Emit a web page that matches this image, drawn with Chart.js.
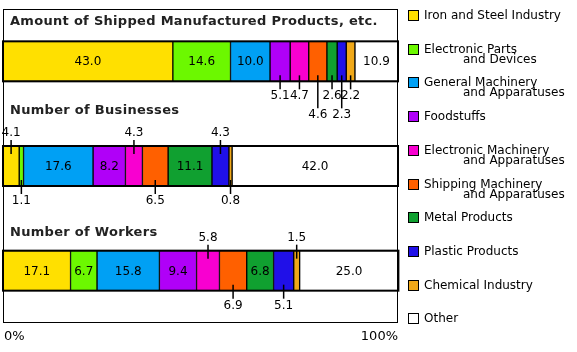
<!DOCTYPE html>
<html>
<head>
<meta charset="utf-8">
<script src="https://cdn.jsdelivr.net/npm/chart.js@4"></script>
<style>
html, body { margin: 0; padding: 0; background: #fff; }
#wrap { width: 577px; height: 352px; }
</style>
</head>
<body>
<div id="wrap"><canvas id="chart" width="577" height="352"></canvas></div>
<script>
const rows = ['Amount of Shipped Manufactured Products, etc.', 'Number of Businesses', 'Number of Workers'];
const industries = [
  ['Iron and Steel Industry'],
  ['Electronic Parts', 'and Devices'],
  ['General Machinery', 'and Apparatuses'],
  ['Foodstuffs'],
  ['Electronic Machinery', 'and Apparatuses'],
  ['Shipping Machinery', 'and Apparatuses'],
  ['Metal Products'],
  ['Plastic Products'],
  ['Chemical Industry'],
  ['Other']
];
const shipped = [43.0, 14.6, 10.0, 5.1, 4.7, 4.6, 2.6, 2.3, 2.2, 10.9];
const businesses = [4.1, 1.1, 17.6, 8.2, 4.3, 6.5, 11.1, 4.3, 0.8, 42.0];
const workers = [17.1, 6.7, 15.8, 9.4, 5.8, 6.9, 6.8, 5.1, 1.5, 25.0];
const axisLabels = ['0%', '100%'];

const colors = ['#ffe000', '#6cf800', '#00a0f4', '#b000f8', '#f800d0', '#ff6000', '#10a030', '#2010e8', '#f0a818', '#ffffff'];

// where each value label goes: inside the bar, above it, below it, or further below
const labelSpots = [
  ['in', 'in', 'in', 'down', 'down', 'down2', 'down', 'down2', 'down', 'in'],
  ['up', 'down', 'in', 'in', 'up', 'down', 'in', 'up', 'down', 'in'],
  ['in', 'in', 'in', 'in', 'up', 'down', 'in', 'down', 'up', 'in']
];
const titleOffsets = [-20, -35, -18];

const FONT = '"DejaVu Sans", sans-serif';

const series = [shipped, businesses, workers];
const datasets = industries.map((name, i) => ({
  label: name.join(' '),
  data: series.map(s => s[i]),
  backgroundColor: colors[i],
  borderColor: '#000',
  borderWidth: 1,
  borderSkipped: false,
  barThickness: 40
}));

const decorations = {
  id: 'decorations',
  afterDatasetsDraw(chart) {
    const ctx = chart.ctx;
    const ca = chart.chartArea;
    ctx.save();
    ctx.strokeStyle = '#000';
    ctx.lineWidth = 1;
    ctx.strokeRect(ca.left + 0.5, ca.top + 0.5, ca.right - ca.left - 1, ca.bottom - ca.top - 1);

    for (let r = 0; r < rows.length; r++) {
      let top = 0, bottom = 0, left = Infinity, right = -Infinity;
      const bars = [];
      for (let d = 0; d < datasets.length; d++) {
        const el = chart.getDatasetMeta(d).data[r];
        const p = el.getProps(['x', 'y', 'base', 'height'], true);
        const l = Math.min(p.x, p.base), rt = Math.max(p.x, p.base);
        top = p.y - p.height / 2;
        bottom = p.y + p.height / 2;
        left = Math.min(left, l);
        right = Math.max(right, rt);
        bars.push({ cx: (l + rt) / 2, cy: p.y });
      }
      ctx.lineWidth = 2;
      ctx.strokeRect(left, top, right - left, bottom - top);

      // row title
      ctx.fillStyle = '#222';
      ctx.font = 'bold 13px ' + FONT;
      ctx.letterSpacing = '0.3px';
      ctx.textAlign = 'left';
      ctx.textBaseline = 'middle';
      ctx.fillText(rows[r], ca.left + 7, top + titleOffsets[r]);
      ctx.letterSpacing = '0px';

      // values
      ctx.font = '12px ' + FONT;
      ctx.textAlign = 'center';
      ctx.fillStyle = '#000';
      ctx.lineWidth = 1.5;
      bars.forEach((b, d) => {
        const txt = series[r][d].toFixed(1);
        const spot = labelSpots[r][d];
        if (spot === 'in') {
          ctx.fillText(txt, b.cx, b.cy + 1);
          return;
        }
        ctx.beginPath();
        if (spot === 'up') {
          ctx.moveTo(b.cx, top + 8);
          ctx.lineTo(b.cx, top - 6);
          ctx.stroke();
          ctx.fillText(txt, b.cx, top - 13);
        } else {
          const len = spot === 'down2' ? 27 : 8;
          ctx.moveTo(b.cx, bottom - 6);
          ctx.lineTo(b.cx, bottom + len);
          ctx.stroke();
          ctx.fillText(txt, b.cx, bottom + len + 7);
        }
      });
    }

    // 0% / 100%
    ctx.font = '13px ' + FONT;
    ctx.fillStyle = '#000';
    ctx.textBaseline = 'middle';
    ctx.textAlign = 'left';
    ctx.fillText(axisLabels[0], ca.left + 1, 337);
    ctx.textAlign = 'right';
    ctx.fillText(axisLabels[1], ca.right, 337);

    // legend
    ctx.font = '12px ' + FONT;
    ctx.lineWidth = 1;
    ctx.textAlign = 'left';
    industries.forEach((name, i) => {
      const y = Math.round(15 + i * 33.7);
      ctx.fillStyle = colors[i];
      ctx.fillRect(408, y - 5, 11, 11);
      ctx.strokeStyle = '#000';
      ctx.strokeRect(408.5, y - 4.5, 10, 10);
      ctx.fillStyle = '#000';
      ctx.fillText(name[0], 424, y + 1);
      if (name.length > 1) {
        ctx.fillText(name[1], 463, y + 11);
      }
    });
    ctx.restore();
  }
};

new Chart(document.getElementById('chart'), {
  type: 'bar',
  data: { labels: rows, datasets: datasets },
  options: {
    indexAxis: 'y',
    responsive: false,
    animation: false,
    layout: { padding: { left: 3, right: 179, top: 9, bottom: 29 } },
    scales: {
      x: { stacked: true, min: 0, max: 100, display: false },
      y: { stacked: true, display: false }
    },
    plugins: {
      legend: { display: false },
      tooltip: { enabled: false }
    }
  },
  plugins: [decorations]
});
</script>
</body>
</html>
